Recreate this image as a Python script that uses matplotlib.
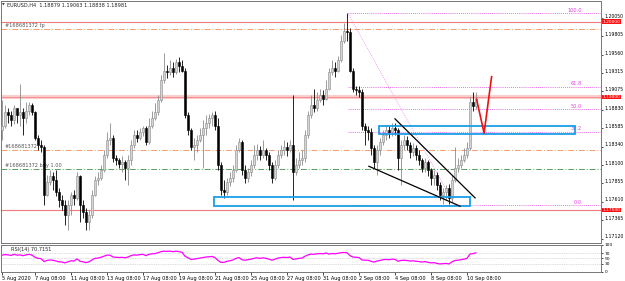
import matplotlib.pyplot as plt
from matplotlib.patches import Rectangle
from matplotlib.transforms import ScaledTranslation

# EURUSD H4 candles (one entry per bar)
symbol_info = 'EURUSD,H4  1.18879 1.19063 1.18838 1.18981'
first_open = 1.1856
closes = [1.1862, 1.1880, 1.1876, 1.1869, 1.1885, 1.1876, 1.1880, 1.1872, 1.1882, 1.1889,
          1.1880, 1.1845, 1.1836, 1.1833, 1.1770, 1.1787, 1.1795, 1.1790, 1.1774, 1.1763,
          1.1757, 1.1743, 1.1757, 1.1770, 1.1766, 1.1795, 1.1757, 1.1747, 1.1734, 1.1743,
          1.1770, 1.1790, 1.1792, 1.1803, 1.1823, 1.1843, 1.1845, 1.1819, 1.1816, 1.1811,
          1.1814, 1.1806, 1.1816, 1.1836, 1.1849, 1.1845, 1.1853, 1.1859, 1.1840, 1.1862,
          1.1872, 1.1880, 1.1896, 1.1922, 1.1935, 1.1933, 1.1938, 1.1933, 1.1946, 1.1941,
          1.1935, 1.1876, 1.1856, 1.1833, 1.1836, 1.1843, 1.1849, 1.1859, 1.1866, 1.1872,
          1.1876, 1.1862, 1.1810, 1.1776, 1.1774, 1.1787, 1.1792, 1.1803, 1.1829, 1.1840,
          1.1803, 1.1792, 1.1800, 1.1810, 1.1823, 1.1829, 1.1823, 1.1829, 1.1823, 1.1810,
          1.1792, 1.1810, 1.1823, 1.1829, 1.1833, 1.1829, 1.1836, 1.1800, 1.1810, 1.1816,
          1.1819, 1.1849, 1.1876, 1.1889, 1.1885, 1.1896, 1.1902, 1.1898, 1.1911, 1.1933,
          1.1938, 1.1935, 1.1949, 1.1975, 1.1988, 1.1986, 1.1935, 1.1911, 1.1909, 1.1906,
          1.1862, 1.1856, 1.1853, 1.1832, 1.1814, 1.1829, 1.1840, 1.1849, 1.1856, 1.1853,
          1.1859, 1.1856, 1.1819, 1.1836, 1.1843, 1.1836, 1.1827, 1.1832, 1.1823, 1.1816,
          1.1806, 1.1814, 1.1803, 1.1792, 1.1796, 1.1783, 1.1770, 1.1774, 1.1779, 1.1766,
          1.1790, 1.1806, 1.1810, 1.1816, 1.1823, 1.1832, 1.1893, 1.1888, 1.1898]
highs = [1.1896, 1.1889, 1.1885, 1.1882, 1.1890, 1.1882, 1.1917, 1.1885, 1.1893, 1.1894,
         1.1892, 1.1882, 1.1849, 1.1843, 1.1836, 1.1796, 1.1803, 1.1800, 1.1803, 1.1779,
         1.1770, 1.1763, 1.1763, 1.1774, 1.1776, 1.1800, 1.1796, 1.1763, 1.1753, 1.1750,
         1.1776, 1.1795, 1.1800, 1.1810, 1.1829, 1.1853, 1.1865, 1.1849, 1.1823, 1.1819,
         1.1821, 1.1816, 1.1823, 1.1843, 1.1856, 1.1856, 1.1859, 1.1862, 1.1861, 1.1872,
         1.1882, 1.1892, 1.1902, 1.1929, 1.1958, 1.1942, 1.1949, 1.1946, 1.1951, 1.1953,
         1.1949, 1.1938, 1.1880, 1.1859, 1.1845, 1.1849, 1.1859, 1.1869, 1.1876, 1.1878,
         1.1880, 1.1882, 1.1872, 1.1814, 1.1790, 1.1792, 1.1800, 1.1810, 1.1836, 1.1845,
         1.1843, 1.1810, 1.1806, 1.1816, 1.1836, 1.1837, 1.1835, 1.1843, 1.1832, 1.1827,
         1.1814, 1.1816, 1.1829, 1.1836, 1.1843, 1.1840, 1.1843, 1.1902, 1.1819, 1.1827,
         1.1829, 1.1856, 1.1882, 1.1902, 1.1911, 1.1906, 1.1911, 1.1909, 1.1922, 1.1938,
         1.1949, 1.1946, 1.1955, 1.1982, 1.1998, 1.2011, 1.1991, 1.1938, 1.1915, 1.1914,
         1.1911, 1.1866, 1.1862, 1.1859, 1.1836, 1.1836, 1.1845, 1.1856, 1.1861, 1.1862,
         1.1865, 1.1866, 1.1859, 1.1843, 1.1849, 1.1848, 1.1840, 1.1839, 1.1836, 1.1829,
         1.1819, 1.1819, 1.1816, 1.1806, 1.1803, 1.1800, 1.1787, 1.1779, 1.1783, 1.1784,
         1.1796, 1.1833, 1.1819, 1.1823, 1.1832, 1.1840, 1.1900, 1.1907, 1.1906]
lows = [1.1843, 1.1859, 1.1866, 1.1862, 1.1864, 1.1866, 1.1862, 1.1849, 1.1866, 1.1876,
        1.1876, 1.1843, 1.1829, 1.1827, 1.1757, 1.1769, 1.1783, 1.1776, 1.1769, 1.1754,
        1.1750, 1.1730, 1.1723, 1.1743, 1.1757, 1.1763, 1.1734, 1.1739, 1.1723, 1.1723,
        1.1739, 1.1769, 1.1783, 1.1790, 1.1800, 1.1819, 1.1836, 1.1814, 1.1810, 1.1806,
        1.1800, 1.1790, 1.1783, 1.1810, 1.1832, 1.1840, 1.1843, 1.1848, 1.1836, 1.1837,
        1.1859, 1.1869, 1.1876, 1.1893, 1.1919, 1.1925, 1.1929, 1.1927, 1.1930, 1.1933,
        1.1933, 1.1872, 1.1849, 1.1829, 1.1816, 1.1827, 1.1840, 1.1806, 1.1849, 1.1859,
        1.1862, 1.1856, 1.1803, 1.1770, 1.1766, 1.1770, 1.1782, 1.1787, 1.1800, 1.1827,
        1.1796, 1.1786, 1.1787, 1.1795, 1.1806, 1.1816, 1.1816, 1.1819, 1.1816, 1.1803,
        1.1786, 1.1790, 1.1806, 1.1819, 1.1823, 1.1821, 1.1827, 1.1763, 1.1796, 1.1806,
        1.1810, 1.1814, 1.1845, 1.1872, 1.1880, 1.1882, 1.1893, 1.1889, 1.1896, 1.1909,
        1.1929, 1.1927, 1.1933, 1.1946, 1.1972, 1.1975, 1.1933, 1.1906, 1.1902, 1.1900,
        1.1856, 1.1836, 1.1843, 1.1823, 1.1806, 1.1796, 1.1823, 1.1836, 1.1843, 1.1845,
        1.1848, 1.1849, 1.1803, 1.1783, 1.1829, 1.1829, 1.1819, 1.1821, 1.1816, 1.1810,
        1.1800, 1.1800, 1.1795, 1.1783, 1.1783, 1.1776, 1.1763, 1.1758, 1.1763, 1.1758,
        1.1761, 1.1787, 1.1800, 1.1806, 1.1814, 1.1819, 1.1829, 1.1882, 1.1884]
rsi = [62, 64, 63, 61, 65, 62, 63, 60, 63, 65, 62, 54, 50, 49, 38, 42, 44, 43, 40, 37,
       36, 33, 37, 41, 40, 48, 39, 37, 34, 37, 44, 50, 51, 54, 58, 62, 62, 55, 54, 53,
       54, 52, 55, 60, 63, 62, 64, 65, 60, 65, 67, 68, 71, 75, 77, 76, 77, 75, 77, 75,
       73, 58, 52, 46, 47, 49, 51, 53, 55, 56, 57, 53, 42, 35, 35, 39, 41, 44, 50, 53,
       45, 43, 45, 47, 50, 52, 50, 52, 50, 47, 43, 47, 51, 53, 54, 53, 55, 46, 48, 50,
       51, 58, 63, 66, 65, 67, 68, 67, 70, 66, 68, 67, 69, 71, 72, 71, 60, 55, 54, 53,
       44, 43, 43, 39, 36, 40, 42, 45, 46, 45, 47, 46, 39, 42, 43, 42, 40, 41, 39, 38,
       36, 38, 35, 33, 34, 31, 29, 30, 31, 29, 37, 42, 43, 45, 47, 50, 66, 68, 70.7151]

date_pos = [0, 11, 23, 35, 47, 59, 71, 83, 95, 107, 119, 131, 143, 155]
date_labels = ['5 Aug 2020', '7 Aug 08:00', '11 Aug 08:00', '13 Aug 08:00', '17 Aug 08:00',
               '19 Aug 08:00', '21 Aug 08:00', '25 Aug 08:00', '27 Aug 08:00', '31 Aug 08:00',
               '2 Sep 08:00', '4 Sep 08:00', '8 Sep 08:00', '10 Sep 08:00']
price_ticks = [1.20050, 1.19805, 1.19560, 1.19315, 1.19075, 1.18830, 1.18585,
               1.18340, 1.18100, 1.17855, 1.17610, 1.17365, 1.17120]
red_levels = [1.2000, 1.1900, 1.1750]
order_id = '#168681372'
tp_price = 1.1990
entry_price = 1.1830
buy_price = 1.1804
fib_high = 1.2011
fib_low = 1.1756
fib_ratios = [1.0, 0.618, 0.5, 0.382, 0.0]
fib_labels = ['100.0', '61.8', '50.0', '38.2', '0.0']
fib_start, fib_end = 115.3, 151.0
zone_low = (70.7, 156.0, 1.1755, 1.1767)
zone_mid = (125.7, 191.0, 1.1851, 1.1862)
upper_line = ([131.0, 157.7], [1.1871, 1.1766])
lower_line = ([122.3, 152.7], [1.1808, 1.1755])
path_x = [158.2, 160.7, 163.2]
path_y = [1.1897, 1.1852, 1.1927]

opens = [first_open] + closes[:-1]

fig = plt.figure(figsize=(6.25, 2.81), dpi=100)
ax = fig.add_axes([1/625, 1 - 243/281, 600/625, 242/281])
ax.set_xlim(-0.33, 199.67)
ax.set_ylim(1.17061, 1.20275)

# candles
for i in range(len(closes)):
    o, c = opens[i], closes[i]
    h, l = max(highs[i], o, c), min(lows[i], o, c)
    if c >= o:
        fc, ec = '#d4d4d4', '#8a8a8a'
    else:
        fc, ec = 'black', 'black'
    ax.vlines(i, l, h, color=ec, lw=0.6, zorder=3)
    ax.bar(i, max(abs(c - o), 0.00002), bottom=min(o, c), width=0.72,
           color=fc, edgecolor=ec, linewidth=0.4, zorder=4)

# horizontal levels
ax.axhline(red_levels[0], color='#f07a7a', lw=0.8, zorder=2)
ax.axhline(red_levels[1], color='#fbd0d0', lw=3.0, zorder=2)
ax.axhline(red_levels[1], color='#f49090', lw=0.8, zorder=2)
ax.axhline(red_levels[2], color='#f07a7a', lw=0.8, zorder=2)
ax.axhline(tp_price, color='#f59a6a', lw=0.7, ls=(0, (6, 2, 1, 2)), zorder=2)
ax.axhline(entry_price, color='#f59a6a', lw=0.7, ls=(0, (6, 2, 1, 2)), zorder=2)
ax.axhline(buy_price, color='#5aa05a', lw=0.7, ls=(0, (6, 2, 1, 2)), zorder=2)
ax.text(1, tp_price + 0.00012, order_id + ' tp', fontsize=3.6, color='#555555', va='bottom')
ax.text(1, entry_price + 0.00012, order_id, fontsize=3.6, color='#555555', va='bottom')
ax.text(1, buy_price + 0.00012, order_id + ' buy 1.00', fontsize=3.6, color='#555555', va='bottom')

# fibonacci
for r, lab in zip(fib_ratios, fib_labels):
    lvl = fib_low + r * (fib_high - fib_low)
    ax.plot([fib_start, 199.67], [lvl, lvl], color='#e040e0', lw=0.6, ls=(0, (1, 1.5)), zorder=2)
    ax.text(193.3, lvl + 0.0001, lab, fontsize=3.6, color='#e040e0', ha='right', va='bottom')
ax.plot([fib_start, fib_end], [fib_high, fib_low], color='#f080f0', lw=0.6, ls=(0, (1, 1.5)), zorder=2)

# zones
for x0, x1, y0, y1 in [zone_low, zone_mid]:
    ax.add_patch(Rectangle((x0, y0), x1 - x0, y1 - y0, fill=False,
                           edgecolor='#1a9ee8', lw=1.3, zorder=5))

# wedge lines and projected path
ax.plot(*upper_line, color='black', lw=0.9, zorder=6)
ax.plot(*lower_line, color='black', lw=0.9, zorder=6)
ax.plot(path_x, path_y, color='#ee1111', lw=1.2, zorder=6)

# price scale
ax.yaxis.tick_right()
ax.set_yticks(price_ticks)
ax.set_yticklabels(['%.5f' % t for t in price_ticks])
ax.tick_params(axis='y', labelsize=3.3, length=1.5, width=0.5, pad=1)
nudge = ScaledTranslation(0, 2.2/100, fig.dpi_scale_trans)
for lab in ax.get_yticklabels():
    lab.set_transform(lab.get_transform() + nudge)
ax.set_xticks([])
for lvl in red_levels:
    ax.text(1.003, lvl, '%.5f' % lvl, transform=ax.get_yaxis_transform(), fontsize=3.2,
            color='white', va='center', ha='left',
            bbox=dict(facecolor='#ff1010', edgecolor='none', pad=0.25))
for s in ax.spines.values():
    s.set_color('#777777')
    s.set_linewidth(0.7)

fig.text(2/625, 1 - 5/281, '\u25bc', fontsize=2.5, color='#333333', va='center')
fig.text(7/625, 1 - 5/281, symbol_info, fontsize=3.6, color='#222222', va='center')

# RSI pane
ax2 = fig.add_axes([1/625, 1 - 271.7/281, 600/625, 26.7/281])
ax2.set_xlim(-0.33, 199.67)
ax2.set_ylim(0, 100)
for lvl in [70, 50, 30]:
    ax2.axhline(lvl, color='#bbbbbb', lw=0.5, ls=(0, (1, 1.5)))
ax2.plot(range(len(rsi)), rsi, color='#ff00ff', lw=0.9)
ax2.text(3, 94, 'RSI(14) 70.7151', fontsize=3.6, color='#222222', va='top')
ax2.yaxis.tick_right()
ax2.set_yticks([100, 70, 50, 30, 0])
ax2.set_yticklabels(['100', '70', '50', '30', '0'])
ax2.tick_params(axis='y', labelsize=3.2, length=1.5, width=0.5, pad=1)
ax2.set_xticks(date_pos)
ax2.set_xticklabels(date_labels, ha='left')
ax2.tick_params(axis='x', labelsize=3.6, length=2, width=0.5, pad=1)
for s in ax2.spines.values():
    s.set_color('#777777')
    s.set_linewidth(0.7)

fig.savefig('out.png', dpi=100, facecolor='white')
